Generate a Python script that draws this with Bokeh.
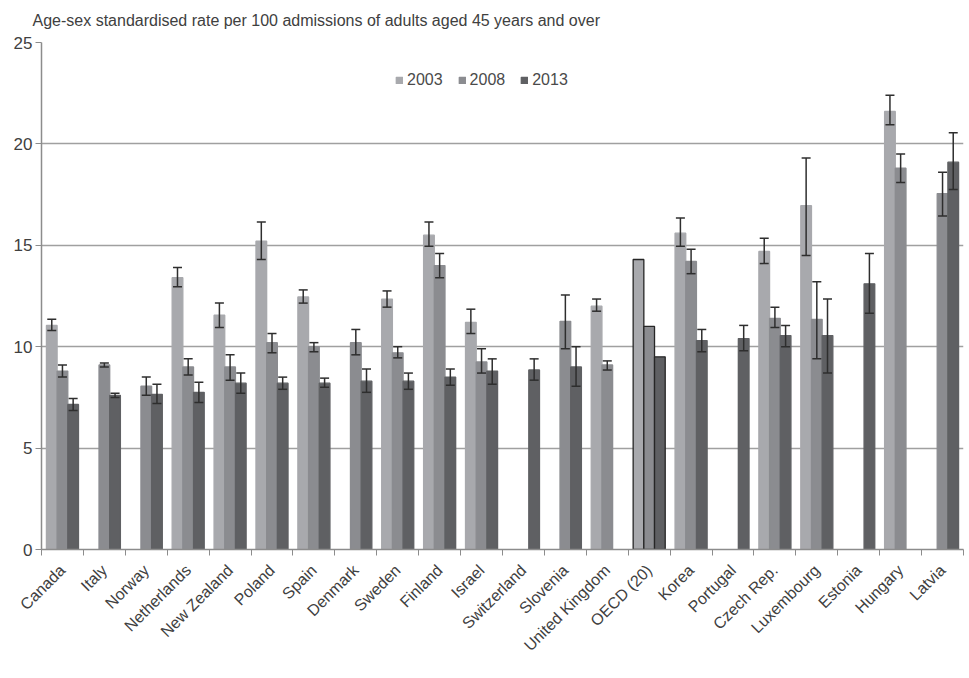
import math
from bokeh.plotting import figure
from bokeh.models import (ColumnDataSource, Range1d, FixedTicker, Whisker, TeeHead,
                          Legend, LegendItem)
from bokeh.embed import file_html
from bokeh.resources import INLINE

countries = ["Canada", "Italy", "Norway", "Netherlands", "New Zealand", "Poland", "Spain",
             "Denmark", "Sweden", "Finland", "Israel", "Switzerland", "Slovenia",
             "United Kingdom", "OECD (20)", "Korea", "Portugal", "Czech Rep.", "Luxembourg",
             "Estonia", "Hungary", "Latvia"]
years = ["2003", "2008", "2013"]

rate_2003 = [11.05, None, None, 13.4, 11.55, 15.2, 12.45, None, 12.35, 15.5, 11.2, None, None,
             12.0, 14.3, 15.6, None, 14.7, 16.95, None, 21.6, None]
lo_2003 = [10.8, None, None, 12.95, 10.95, 14.3, 12.15, None, 11.95, 14.95, 10.65, None, None,
           11.75, None, 14.95, None, 14.1, 14.5, None, 20.95, None]
hi_2003 = [11.35, None, None, 13.9, 12.15, 16.15, 12.8, None, 12.75, 16.15, 11.85, None, None,
           12.35, None, 16.35, None, 15.35, 19.3, None, 22.4, None]

rate_2008 = [8.8, 9.1, 8.05, 9.0, 9.0, 10.2, 10.0, 10.2, 9.7, 14.0, 9.25, None, 11.25,
             9.1, 11.0, 14.2, None, 11.4, 11.35, None, 18.8, 17.55]
lo_2008 = [8.5, 9.0, 7.6, 8.6, 8.35, 9.7, 9.75, 9.6, 9.45, 13.4, 8.7, None, 9.9,
           8.85, None, 13.6, None, 10.95, 9.4, None, 18.1, 16.45]
hi_2008 = [9.1, 9.2, 8.5, 9.4, 9.6, 10.65, 10.2, 10.85, 10.0, 14.6, 9.9, None, 12.55,
           9.3, None, 14.8, None, 11.95, 13.2, None, 19.5, 18.6]

rate_2013 = [7.15, 7.6, 7.65, 7.75, 8.2, 8.2, 8.2, 8.3, 8.3, 8.5, 8.8, 8.85, 9.0,
             None, 9.5, 10.3, 10.4, 10.55, 10.55, 13.1, None, 19.1]
lo_2013 = [6.85, 7.5, 7.2, 7.25, 7.7, 7.9, 8.0, 7.75, 7.9, 8.1, 8.15, 8.35, 8.05,
           None, None, 9.75, 9.8, 10.0, 8.7, 11.65, None, 17.75]
hi_2013 = [7.45, 7.7, 8.15, 8.25, 8.7, 8.5, 8.45, 8.9, 8.7, 8.9, 9.4, 9.4, 10.0,
           None, None, 10.85, 11.05, 11.05, 12.35, 14.6, None, 20.55]

series = [(rate_2003, lo_2003, hi_2003), (rate_2008, lo_2008, hi_2008), (rate_2013, lo_2013, hi_2013)]
colors = ["#a8a9ad", "#8b8c90", "#5f6063"]
offsets = [-0.255, 0.0, 0.255]
bar_w = 0.255
FONT = "Liberation Sans"
TEXT = "#404040"
AXIS = "#8c8c8c"
ERR = "#2e2e2e"

p = figure(width=969, height=678, x_range=Range1d(0.5, len(countries) + 0.5),
           y_range=Range1d(0, 25), output_backend="svg", toolbar_location=None,
           min_border_left=41, min_border_right=6, min_border_top=41, min_border_bottom=129)
p.outline_line_color = None
p.background_fill_color = "white"

p.title.text = "Age-sex standardised rate  per 100 admissions of adults aged 45 years and over"
p.title.text_font = FONT
p.title.text_font_size = "16px"
p.title.text_font_style = "normal"
p.title.text_color = TEXT
p.title.align = "left"
p.title.vertical_align = "top"
p.title.offset = -9
p.title.standoff = 23

p.xgrid.visible = False
p.ygrid.ticker = FixedTicker(ticks=[0, 5, 10, 15, 20, 25])
p.ygrid.grid_line_color = "#a0a0a0"
p.ygrid.grid_line_width = 1.5

ya = p.yaxis[0]
ya.ticker = FixedTicker(ticks=[0, 5, 10, 15, 20, 25])
ya.axis_line_color = AXIS
ya.axis_line_width = 1.5
ya.major_tick_line_color = AXIS
ya.major_tick_out = 6
ya.major_tick_in = 0
ya.minor_tick_line_color = None
ya.major_label_text_font = FONT
ya.major_label_text_font_size = "17px"
ya.major_label_text_color = TEXT
ya.major_label_standoff = 3

xa = p.xaxis[0]
centers = list(range(1, len(countries) + 1))
xa.ticker = FixedTicker(ticks=centers, minor_ticks=[c - 0.5 for c in centers] + [len(countries) + 0.5])
xa.axis_line_color = AXIS
xa.axis_line_width = 1.5
xa.major_tick_line_color = None
xa.minor_tick_line_color = AXIS
xa.minor_tick_out = 6
xa.minor_tick_in = 0
xa.major_label_overrides = {c: name for c, name in zip(centers, countries)}
xa.major_label_orientation = math.radians(45)
xa.major_label_text_font = FONT
xa.major_label_text_font_size = "16px"
xa.major_label_text_color = TEXT
xa.major_label_standoff = 12

legend_items = []
for (vals, lo, hi), color, off, year in zip(series, colors, offsets, years):
    xs, tops, lines = [], [], []
    for i, v in enumerate(vals):
        if v is None:
            continue
        xs.append(i + 1 + off)
        tops.append(v)
        lines.append("#262626" if countries[i].startswith("OECD") else color)
    src = ColumnDataSource(dict(x=xs, top=tops, line=lines))
    r = p.vbar(x="x", top="top", bottom=0, width=bar_w, source=src,
               fill_color=color, line_color="line", line_width=1.3)
    legend_items.append(LegendItem(label=year, renderers=[r]))

    ex, elo, ehi = [], [], []
    for i, (a, b) in enumerate(zip(lo, hi)):
        if a is None or b is None:
            continue
        ex.append(i + 1 + off)
        elo.append(a)
        ehi.append(b)
    esrc = ColumnDataSource(dict(x=ex, lo=elo, hi=ehi))
    w = Whisker(base="x", lower="lo", upper="hi", source=esrc, level="annotation",
                line_color=ERR, line_width=1.5,
                lower_head=TeeHead(size=9, line_color=ERR, line_width=1.5),
                upper_head=TeeHead(size=9, line_color=ERR, line_width=1.5))
    p.add_layout(w)

legend = Legend(items=legend_items, orientation="horizontal", location=(354, 459),
                glyph_width=8, glyph_height=8, label_standoff=4, spacing=15,
                padding=0, margin=0, border_line_color=None, background_fill_alpha=0,
                label_text_font=FONT, label_text_font_size="16px", label_text_color="#4a4a4a",
                label_height=20)
p.add_layout(legend, "center")

open("out.html", "w").write(file_html(p, INLINE))
